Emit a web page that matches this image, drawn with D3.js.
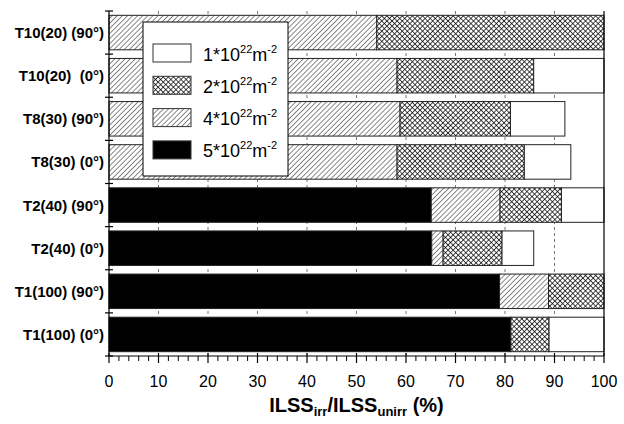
<!DOCTYPE html>
<html>
<head>
<meta charset="utf-8">
<script src="https://cdn.jsdelivr.net/npm/d3@7/dist/d3.min.js"></script>
<style>
  html, body { margin: 0; padding: 0; background: #fff; }
  svg { display: block; font-family: Arial, "Liberation Sans", Helvetica, sans-serif; }
</style>
</head>
<body>
<svg id="chart" width="624" height="424"></svg>
<script>
// Specimens, top to bottom
const categories = [
  "T10(20) (90°)", "T10(20)  (0°)", "T8(30) (90°)", "T8(30) (0°)",
  "T2(40) (90°)", "T2(40) (0°)", "T1(100) (90°)", "T1(100) (0°)"
];

// Stacked segment widths (% of unirradiated ILSS) per fluence
const fluence5 = [0, 0, 0, 0, 65.1, 65.2, 78.9, 81.2];
const fluence4 = [54.1, 58.2, 58.8, 58.2, 13.9, 2.3, 9.9, 0];
const fluence2 = [45.9, 27.6, 22.3, 25.7, 12.4, 11.9, 11.2, 7.7];
const fluence1 = [0, 14.2, 11.0, 9.4, 8.6, 6.4, 0, 11.1];

const seriesNames = ["5", "4", "2", "1"];
const seriesValues = [fluence5, fluence4, fluence2, fluence1];
const legendOrder = ["1", "2", "4", "5"];

const xTicks = [0, 10, 20, 30, 40, 50, 60, 70, 80, 90, 100];

const svg = d3.select("#chart");
const plotLeft = 109, plotRight = 604, plotTop = 11, plotBottom = 356;

const x = d3.scaleLinear().domain([0, 100]).range([plotLeft, plotRight]);
const y = d3.scaleBand().domain(categories).range([plotTop, plotBottom])
  .paddingInner(0.2).paddingOuter(0.1);

// Fill patterns
const defs = svg.append("defs");
const hatch = defs.append("pattern").attr("id", "hatch")
  .attr("patternUnits", "userSpaceOnUse").attr("width", 3.6).attr("height", 3.6)
  .attr("patternTransform", "rotate(45)");
hatch.append("rect").attr("width", 3.6).attr("height", 3.6).attr("fill", "#fff");
hatch.append("line").attr("x1", 0).attr("y1", 0).attr("x2", 0).attr("y2", 3.6)
  .attr("stroke", "#111").attr("stroke-width", 1.0);

const cross = defs.append("pattern").attr("id", "cross")
  .attr("patternUnits", "userSpaceOnUse").attr("width", 3.6).attr("height", 3.6)
  .attr("patternTransform", "rotate(45)");
cross.append("rect").attr("width", 3.6).attr("height", 3.6).attr("fill", "#fff");
cross.append("line").attr("x1", 0).attr("y1", 0).attr("x2", 0).attr("y2", 3.6)
  .attr("stroke", "#000").attr("stroke-width", 1.4);
cross.append("line").attr("x1", 0).attr("y1", 0).attr("x2", 3.6).attr("y2", 0)
  .attr("stroke", "#000").attr("stroke-width", 1.4);

const fills = { "5": "#000", "4": "url(#hatch)", "2": "url(#cross)", "1": "#fff" };

// Dashed vertical grid
svg.append("g").selectAll("line").data(xTicks.slice(1, -1)).join("line")
  .attr("x1", d => x(d)).attr("x2", d => x(d))
  .attr("y1", plotTop).attr("y2", plotBottom)
  .attr("stroke", "#777").attr("stroke-width", 1)
  .attr("stroke-dasharray", "3,3");

// Stacked bars
const rows = categories.map((c, i) => {
  const o = { cat: c };
  seriesNames.forEach((s, k) => { o[s] = seriesValues[k][i]; });
  return o;
});
const stacked = d3.stack().keys(seriesNames)(rows);

svg.append("g").selectAll("g").data(stacked).join("g")
  .attr("fill", d => fills[d.key])
  .selectAll("rect").data(d => d.filter(p => p[1] - p[0] > 0)).join("rect")
  .attr("x", d => x(d[0]))
  .attr("width", d => x(d[1]) - x(d[0]))
  .attr("y", d => y(d.data.cat))
  .attr("height", y.bandwidth())
  .attr("stroke", "#222").attr("stroke-width", 1);

// Axes
const axisG = svg.append("g").attr("stroke", "#000").attr("stroke-width", 1.2);
axisG.append("line").attr("x1", plotLeft).attr("x2", plotRight).attr("y1", plotBottom).attr("y2", plotBottom);
axisG.append("line").attr("x1", plotLeft).attr("x2", plotLeft).attr("y1", plotTop).attr("y2", plotBottom);
axisG.append("line").attr("x1", plotRight).attr("x2", plotRight).attr("y1", plotTop).attr("y2", plotBottom);

// Bottom ticks: majors every 10, minors every 2
const minor = d3.range(0, 101, 2).filter(v => v % 10 !== 0);
axisG.append("g").selectAll("line").data(xTicks).join("line")
  .attr("x1", d => x(d)).attr("x2", d => x(d))
  .attr("y1", plotBottom - 3).attr("y2", plotBottom + 7);
axisG.append("g").selectAll("line").data(minor).join("line")
  .attr("x1", d => x(d)).attr("x2", d => x(d))
  .attr("y1", plotBottom).attr("y2", plotBottom + 5).attr("stroke-width", 1);

// Left ticks at band boundaries
const step = y.step();
axisG.append("g").selectAll("line").data(d3.range(categories.length + 1)).join("line")
  .attr("x1", plotLeft - 4).attr("x2", plotLeft + 4)
  .attr("y1", i => plotTop + i * step).attr("y2", i => plotTop + i * step);

// Tick labels
svg.append("g").selectAll("text").data(xTicks).join("text")
  .attr("x", d => x(d)).attr("y", 387)
  .attr("text-anchor", "middle").attr("font-size", 16).attr("fill", "#000")
  .text(d => d);

// Category labels
svg.append("g").selectAll("text").data(categories).join("text")
  .attr("x", 104).attr("y", d => y(d) + y.bandwidth() / 2 + 5.5)
  .attr("text-anchor", "end").attr("font-size", 15).attr("font-weight", "bold")
  .attr("fill", "#000")
  .style("white-space", "pre")
  .text(d => d);

// Axis title
const title = svg.append("text")
  .attr("x", (plotLeft + plotRight) / 2).attr("y", 412)
  .attr("text-anchor", "middle").attr("font-size", 20).attr("font-weight", "bold");
title.append("tspan").text("ILSS");
title.append("tspan").attr("font-size", 13).attr("dy", 4).text("irr");
title.append("tspan").attr("dy", -4).text("/ILSS");
title.append("tspan").attr("font-size", 13).attr("dy", 4).text("unirr");
title.append("tspan").attr("dy", -4).text(" (%)");

// Legend
const legend = svg.append("g");
legend.append("rect").attr("x", 143).attr("y", 22).attr("width", 145).attr("height", 154)
  .attr("fill", "#fff").attr("stroke", "#000").attr("stroke-width", 1);
const item = legend.selectAll("g.item").data(legendOrder).join("g")
  .attr("class", "item")
  .attr("transform", (d, i) => `translate(153,${44 + i * 32.3})`);
item.append("rect").attr("width", 38).attr("height", 18)
  .attr("fill", d => fills[d]).attr("stroke", "#333").attr("stroke-width", 1);
const lt = item.append("text").attr("x", 50).attr("y", 16.5)
  .attr("font-size", 18).attr("fill", "#000");
lt.append("tspan").text(d => d + "*10");
lt.append("tspan").attr("font-size", 11).attr("dy", -8).text("22");
lt.append("tspan").attr("dy", 8).text("m");
lt.append("tspan").attr("font-size", 11).attr("dy", -8).text("-2");
</script>
</body>
</html>
